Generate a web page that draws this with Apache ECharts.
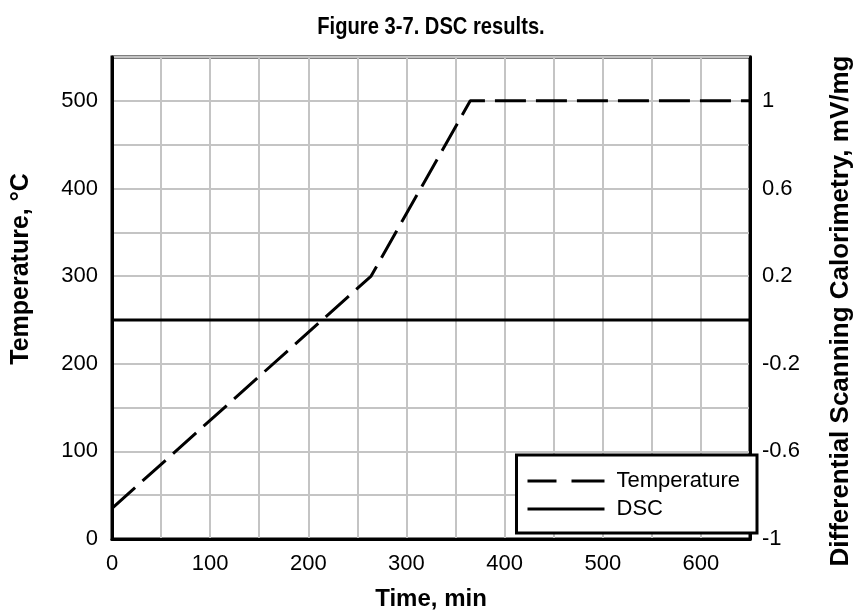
<!DOCTYPE html>
<html>
<head>
<meta charset="utf-8">
<script src="https://cdn.jsdelivr.net/npm/echarts@6/dist/echarts.min.js"></script>
<style>
html,body{margin:0;padding:0;background:#fff;}
#chart{width:862px;height:616px;}
</style>
</head>
<body>
<div id="chart"></div>
<script>
var timeTemp = [0, 264, 365, 650];
var tempValues = [35, 300, 500, 500];
var timeDsc = [0, 650];
var dscValues = [0, 0];
var xTicks = [0, 100, 200, 300, 400, 500, 600];
var leftTicks = [0, 100, 200, 300, 400, 500];
var rightTicks = [-1, -0.6, -0.2, 0.2, 0.6, 1];

var tempData = timeTemp.map(function (t, i) { return [t, tempValues[i]]; });
var dscData = timeDsc.map(function (t, i) { return [t, dscValues[i]]; });

var FONT = '"Liberation Sans", Arial, sans-serif';
var chart = echarts.init(document.getElementById('chart'), null, {renderer: 'canvas'});
chart.setOption({
  backgroundColor: '#fff',
  animation: false,
  graphic: [{
    type: 'text',
    x: 431, y: 27,
    scaleX: 0.84,
    style: {
      text: 'Figure 3-7. DSC results.',
      font: 'bold 24px "Liberation Sans", Arial, sans-serif',
      fill: '#000',
      textAlign: 'center',
      textVerticalAlign: 'middle'
    }
  }],
  grid: {left: 112, right: 108, top: 57, bottom: 71, show: true, borderColor: '#000', borderWidth: 3, backgroundColor: 'transparent'},
  legend: {
    orient: 'vertical',
    right: 105,
    top: 455,
    backgroundColor: '#fff',
    borderColor: '#000',
    borderWidth: 3,
    padding: [14, 17, 12, 11],
    itemWidth: 77,
    itemHeight: 3,
    itemGap: 4,
    itemStyle: {color: '#000', borderWidth: 0},
    textStyle: {fontFamily: FONT, fontSize: 22, lineHeight: 24, color: '#000', padding: [0, 0, 0, 7]},
    data: [
      {name: 'Temperature', icon: 'path://M0,0H29V3H0ZM44,0H77V3H44Z'},
      {name: 'DSC', icon: 'rect'}
    ]
  },
  xAxis: {
    type: 'value', min: 0, max: 650, interval: 50,
    name: 'Time, min', nameLocation: 'middle', nameGap: 48,
    nameTextStyle: {fontFamily: FONT, fontSize: 24, fontWeight: 'bold', color: '#000'},
    axisLine: {show: true, lineStyle: {color: '#000', width: 3}},
    axisTick: {show: false},
    axisLabel: {
      fontFamily: FONT, fontSize: 22, color: '#000', margin: 14,
      formatter: function (v) { return xTicks.indexOf(v) >= 0 ? String(v) : ''; }
    },
    splitLine: {show: true, lineStyle: {color: '#c4c4c4', width: 2}}
  },
  yAxis: [{
    type: 'value', min: 0, max: 550, interval: 50, position: 'left',
    name: 'Temperature, °C', nameLocation: 'middle', nameGap: 78, nameRotate: 90,
    nameTextStyle: {fontFamily: FONT, fontSize: 25, fontWeight: 'bold', color: '#000', padding: [0, 0, 0, 58]},
    axisLine: {show: true, lineStyle: {color: '#000', width: 3}},
    axisTick: {show: false},
    axisLabel: {
      fontFamily: FONT, fontSize: 22, color: '#000', margin: 14,
      formatter: function (v) { return leftTicks.indexOf(v) >= 0 ? String(v) : ''; }
    },
    splitLine: {show: true, lineStyle: {color: '#c4c4c4', width: 2}}
  }, {
    type: 'value', min: -1, max: 1.2, interval: 0.4, position: 'right',
    name: 'Differential Scanning Calorimetry, mV/mg', nameLocation: 'middle', nameGap: 78, nameRotate: 90,
    nameTextStyle: {fontFamily: FONT, fontSize: 26, fontWeight: 'bold', color: '#000', padding: [0, 26, 0, 0]},
    axisLine: {show: true, lineStyle: {color: '#000', width: 3}},
    axisTick: {show: false},
    axisLabel: {
      fontFamily: FONT, fontSize: 22, color: '#000', margin: 12,
      formatter: function (v) {
        var r = Math.round(v * 10) / 10;
        for (var i = 0; i < rightTicks.length; i++) {
          if (Math.abs(rightTicks[i] - r) < 1e-6 && Math.abs(v - r) < 1e-6) return String(rightTicks[i]);
        }
        return '';
      }
    },
    splitLine: {show: false}
  }],
  series: [{
    name: 'Temperature', type: 'line', yAxisIndex: 0, data: tempData,
    symbol: 'none', z: 5,
    lineStyle: {color: '#000', width: 3, type: [31, 10]},
    itemStyle: {color: '#000'}
  }, {
    name: 'DSC', type: 'line', yAxisIndex: 1, data: dscData,
    symbol: 'none', z: 4,
    lineStyle: {color: '#000', width: 3, type: 'solid'},
    itemStyle: {color: '#000'}
  }]
});
</script>
</body>
</html>
